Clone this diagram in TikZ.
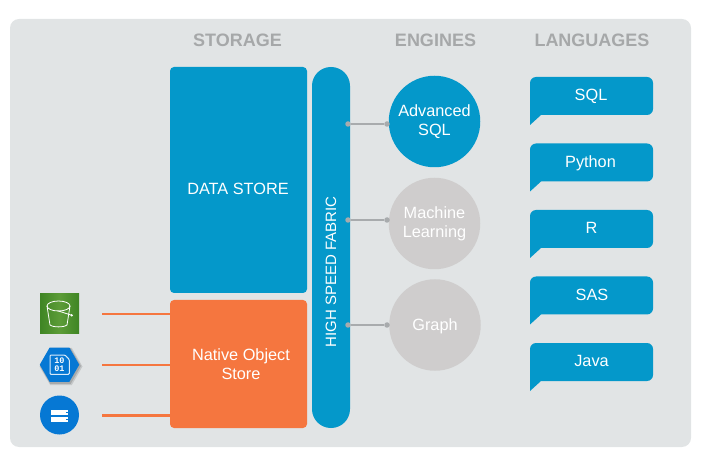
\documentclass[tikz,border=0pt]{standalone}
\usepackage{fontspec}
\setmainfont{Liberation Sans}
\setmonofont{Liberation Mono}
\usetikzlibrary{shapes.geometric}
\definecolor{panelgris}{HTML}{E1E4E5}
\definecolor{azul}{HTML}{0498CA}
\definecolor{naranja}{HTML}{F5763F}
\definecolor{circgris}{HTML}{CFCDCD}
\definecolor{enlace}{HTML}{A8ABAD}
\definecolor{titulo}{HTML}{A6A8A9}
\definecolor{azulicono}{HTML}{0678D4}
\definecolor{verdeborde}{HTML}{3F8524}
\definecolor{verdecentro}{HTML}{5C9C38}
\begin{document}
\begin{tikzpicture}[x=1pt,y=-1pt]
\tikzset{
    titulo/.style={text=titulo, font=\fontsize{18}{20}\selectfont\bfseries},
    bloque/.style={rounded corners=4pt, inner sep=0pt, text=white, align=center, font=\fontsize{16.3}{19}\selectfont},
    motor/.style={circle, minimum size=91.5pt, inner sep=0pt, text=white, align=center, font=\fontsize{16.3}{19}\selectfont},
    etiqueta/.style={text=white, align=center, font=\fontsize{16.3}{19}\selectfont},
    burbuja/.style={fill=azul, rounded corners=6pt},
    enlace/.style={draw=enlace, line width=1.3pt},
    punto/.style={circle, fill=enlace, minimum size=5.5pt, inner sep=0pt},
    raya/.style={draw=naranja, line width=2.4pt}
}
\useasboundingbox (0,0) rectangle (702,465);
\fill[panelgris, rounded corners=9pt] (10,19) rectangle (691,447);
% titles
\node[titulo] (storage) at (237.5,40) {STORAGE};
\node[titulo] (engines) at (435.5,40) {ENGINES};
\node[titulo] (languages) at (592,40) {LANGUAGES};
% storage and fabric
\node[bloque, fill=azul, minimum width=137pt, minimum height=226pt] (datastore) at (238.5,180) {};
\node[etiqueta] (datatext) at (238,189) {DATA STORE};
\node[bloque, fill=naranja, minimum width=137pt, minimum height=128pt] (objectstore) at (238.5,364) {};
\node[etiqueta] (objecttext) at (241,364.5) {Native Object\\Store};
\node[bloque, fill=azul, rounded corners=18.9pt, minimum width=38pt, minimum height=361pt] (fabric) at (331,247.5) {};
\node[etiqueta, font=\fontsize{15}{18}\selectfont, rotate=90] (fabrictext) at (331,272) {HIGH SPEED FABRIC};
% engines
\node[motor, fill=azul] (advanced) at (434.5,121.5) {Advanced\\SQL};
\node[motor, fill=circgris] (machine) at (434.5,223.5) {Machine\\Learning};
\node[motor, fill=circgris, text depth=0pt] (graph) at (435,325) {Graph};
% links
\node[punto] (a1) at (348,124) {};
\node[punto] (a2) at (387,124) {};
\node[punto] (b1) at (348,220) {};
\node[punto] (b2) at (387,220) {};
\node[punto] (c1) at (348,325) {};
\node[punto] (c2) at (387,325) {};
\draw[enlace] (a1) -- (a2);
\draw[enlace] (b1) -- (b2);
\draw[enlace] (c1) -- (c2);
% languages
\foreach \nombre/\arriba/\centro in {SQL/77/591,Python/143.5/590.5,R/210/591.5,SAS/276.5/592,Java/343/591.5}{
    \fill[burbuja] (530,\arriba+25) -- (530,\arriba) -- (653,\arriba) -- (653,\arriba+38) -- (547,\arriba+38)
        [sharp corners] -- (541,\arriba+38) -- (530,\arriba+48) -- cycle;
    \node[etiqueta, text depth=0pt] (leng\nombre) at (\centro,\arriba+18) {\nombre};
}
% icons
\node[rectangle, left color=verdeborde, right color=verdeborde, middle color=verdecentro, minimum size=39pt, inner sep=0pt] (bucket) at (59.5,313.5) {};
\draw[white, line width=0.8pt, line join=round] (47,306) -- (50,325) .. controls (53,327.5) and (64,327.5) .. (67,325) -- (70,306);
\draw[white, line width=0.8pt] (58.5,306) ellipse (11.5 and 5);
\draw[white, line width=0.8pt] (57.5,310.7) -- (71.5,315.2);
\fill[white] (71.7,315.3) circle (1.3);
\node[regular polygon, regular polygon sides=6, fill=black, opacity=.12, minimum size=43pt, inner sep=0pt] (hexsombra) at (61,366.5) {};
\node[regular polygon, regular polygon sides=6, fill=black, opacity=.15, minimum size=41pt, inner sep=0pt] (hexsombrb) at (60.5,366) {};
\node[regular polygon, regular polygon sides=6, fill=azulicono, minimum size=39.5pt, inner sep=0pt, text=white, font=\fontsize{8.5}{8}\ttfamily\bfseries, align=center] (hexagono) at (59.5,364.7) {10\\01};
\draw[white!85!azulicono, line width=1pt, rounded corners=1pt] (50,355) -- (65,355) -- (69.3,359.5) -- (69.3,374.3) -- (50,374.3) -- cycle;
\node[circle, fill=azulicono, minimum size=39pt, inner sep=0pt] (servidor) at (59.5,415) {};
\fill[white] (51,410) rectangle (68.3,414.7);
\fill[white] (51,417.3) rectangle (68.3,421.7);
\fill[azulicono] (65.5,411.5) rectangle (68.3,413.2);
\fill[azulicono] (65.5,418.8) rectangle (68.3,420.2);
% orange lines
\coordinate (r1) at (102,314.3);
\coordinate (r2) at (102,364.7);
\coordinate (r3) at (102,415.3);
\draw[raya] (r1) -- (r1 -| objectstore.west);
\draw[raya] (r2) -- (r2 -| objectstore.west);
\draw[raya] (r3) -- (r3 -| objectstore.west);
\end{tikzpicture}
\end{document}
